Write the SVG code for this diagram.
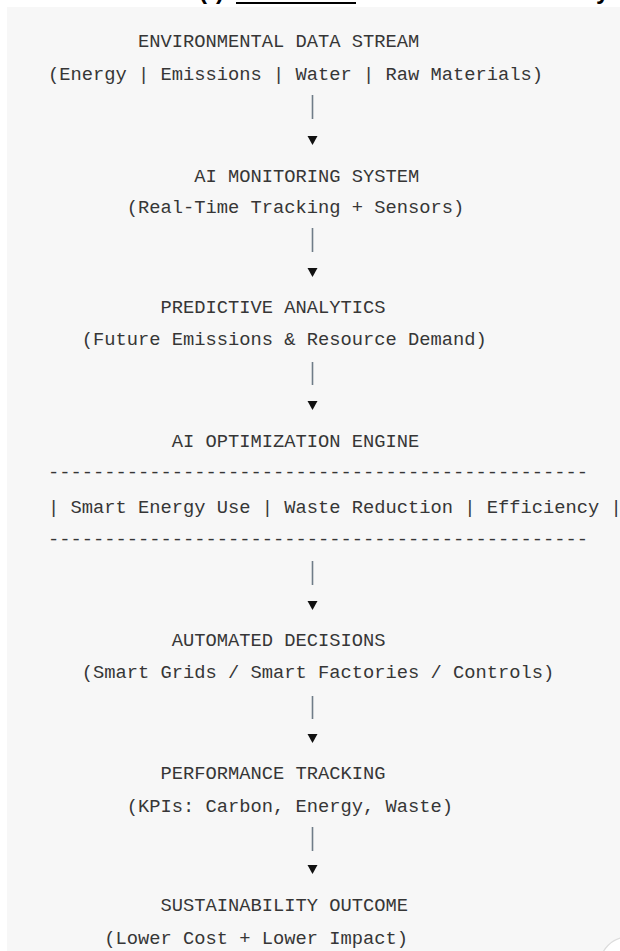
<svg xmlns="http://www.w3.org/2000/svg" width="620" height="951" viewBox="0 0 620 951">
  <style>
    .t { font-family: "Liberation Mono", "DejaVu Sans Mono", monospace; font-size: 18.75px; fill: #363636; }
    .top { font-family: "Liberation Sans", Arial, sans-serif; font-size: 24px; font-weight: bold; fill: #000; }
    .pipe { stroke: #6f7c88; stroke-width: 1.6; }
    .head { fill: #111; }
  </style>
  <rect x="0" y="0" width="620" height="951" fill="#ffffff"/>
  <rect x="7" y="7" width="613" height="944" fill="#f7f7f7"/>
  <g id="page-header">
    <text class="top" x="199" y="-1">(</text>
    <text class="top" x="216" y="-1">)</text>
    <rect x="236" y="2" width="120" height="2" fill="#000"/>
    <text class="top" x="596" y="-1">y</text>
  </g>
  <g id="connectors">
    <line class="pipe" x1="312.5" y1="95" x2="312.5" y2="119"/>
    <polygon class="head" points="307.5,136 317.5,136 312.5,145"/>
    <line class="pipe" x1="312.5" y1="228" x2="312.5" y2="252"/>
    <polygon class="head" points="307.5,268 317.5,268 312.5,277"/>
    <line class="pipe" x1="312.5" y1="362" x2="312.5" y2="385"/>
    <polygon class="head" points="307.5,401 317.5,401 312.5,410"/>
    <line class="pipe" x1="312.5" y1="561" x2="312.5" y2="585"/>
    <polygon class="head" points="307.5,601 317.5,601 312.5,610"/>
    <line class="pipe" x1="312.5" y1="696" x2="312.5" y2="719"/>
    <polygon class="head" points="307.5,734 317.5,734 312.5,743"/>
    <line class="pipe" x1="312.5" y1="827" x2="312.5" y2="851"/>
    <polygon class="head" points="307.5,865 317.5,865 312.5,874"/>
  </g>
  <g id="node-data-stream">
    <text class="t" x="138" y="47">ENVIRONMENTAL DATA STREAM</text>
    <text class="t" x="48" y="80">(Energy | Emissions | Water | Raw Materials)</text>
  </g>
  <g id="node-monitoring">
    <text class="t" x="194.25" y="182">AI MONITORING SYSTEM</text>
    <text class="t" x="126.75" y="213">(Real-Time Tracking + Sensors)</text>
  </g>
  <g id="node-predictive">
    <text class="t" x="160.5" y="313">PREDICTIVE ANALYTICS</text>
    <text class="t" x="81.75" y="345">(Future Emissions &amp; Resource Demand)</text>
  </g>
  <g id="node-optimization">
    <text class="t" x="171.75" y="447">AI OPTIMIZATION ENGINE</text>
    <text class="t" x="48" y="478">------------------------------------------------</text>
    <text class="t" x="48" y="513">| Smart Energy Use | Waste Reduction | Efficiency |</text>
    <text class="t" x="48" y="545">------------------------------------------------</text>
  </g>
  <g id="node-decisions">
    <text class="t" x="171.75" y="646">AUTOMATED DECISIONS</text>
    <text class="t" x="81.75" y="678">(Smart Grids / Smart Factories / Controls)</text>
  </g>
  <g id="node-performance">
    <text class="t" x="160.5" y="779">PERFORMANCE TRACKING</text>
    <text class="t" x="126.75" y="812">(KPIs: Carbon, Energy, Waste)</text>
  </g>
  <g id="node-outcome">
    <text class="t" x="160.5" y="911">SUSTAINABILITY OUTCOME</text>
    <text class="t" x="104.25" y="944">(Lower Cost + Lower Impact)</text>
  </g>
  <circle cx="628" cy="965" r="28" fill="#ffffff" stroke="#dcdcdc" stroke-width="1.2"/>
</svg>
